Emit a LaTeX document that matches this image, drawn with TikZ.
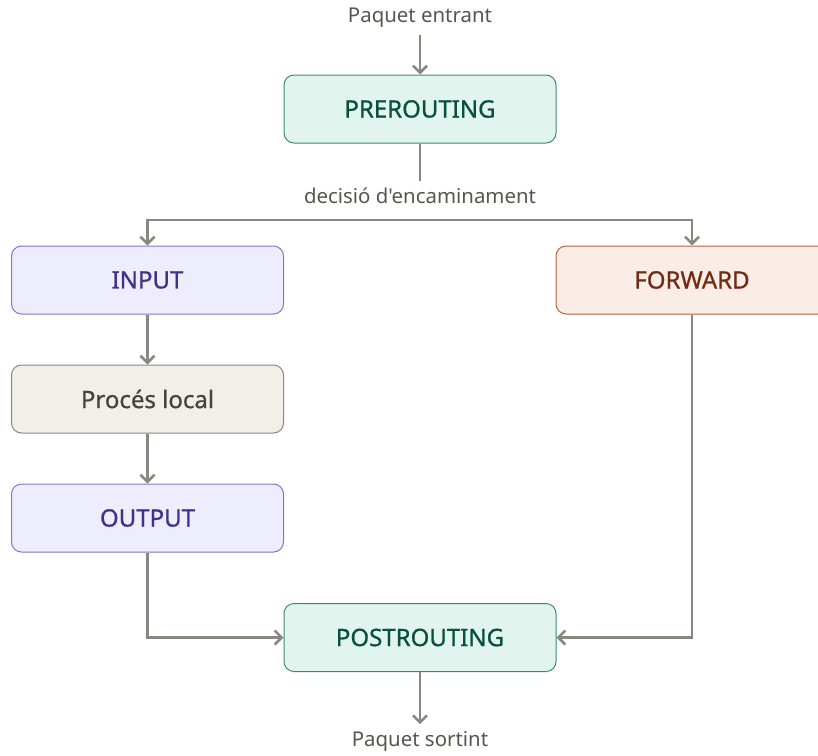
\documentclass[tikz,border=0pt]{standalone}
\usepackage{fontspec}
\setmainfont{Noto Sans}
\newfontfamily\plainfont{Noto Sans}
\newfontfamily\boxfont{Noto Sans}[FakeBold=0.8]
\usetikzlibrary{arrows.meta, positioning}

\definecolor{linegray}{HTML}{888780}
\definecolor{labelgray}{HTML}{555552}
\definecolor{greenfill}{HTML}{E1F5EE}
\definecolor{greendraw}{HTML}{3E8A6E}
\definecolor{greentext}{HTML}{085041}
\definecolor{purplefill}{HTML}{EEEDFE}
\definecolor{purpledraw}{HTML}{7F77C8}
\definecolor{purpletext}{HTML}{3C3489}
\definecolor{orangefill}{HTML}{FAECE7}
\definecolor{orangedraw}{HTML}{B5603F}
\definecolor{orangetext}{HTML}{712B13}
\definecolor{grayfill}{HTML}{F1EFE8}
\definecolor{graydraw}{HTML}{8A8880}
\definecolor{graytext}{HTML}{444441}

\begin{document}
\begin{tikzpicture}[x=1pt, y=-1pt,
  chain/.style={rectangle, rounded corners=10pt, minimum width=272pt, minimum height=68pt, line width=1pt, font=\boxfont\fontsize{24}{28}\selectfont},
  greenblock/.style={chain, draw=greendraw, fill=greenfill, text=greentext},
  purpleblock/.style={chain, draw=purpledraw, fill=purplefill, text=purpletext},
  orangeblock/.style={chain, draw=orangedraw, fill=orangefill, text=orangetext},
  grayblock/.style={chain, draw=graydraw, fill=grayfill, text=graytext},
  tag/.style={text=labelgray, font=\plainfont\fontsize{20.4}{24}\selectfont, inner sep=2pt, outer sep=5pt},
  line/.style={draw=linegray, line width=2.5pt},
  arrow/.style={line, -{Straight Barb[length=7pt, width=14pt, line width=2.5pt]}}]

\useasboundingbox (0,0) rectangle (818,755);

\node[tag] (in) at (420,18) {Paquet entrant};
\node[greenblock] (pre) at (420,109) {PREROUTING};
\node[tag] (decision) at (420,196) {decisió d'encaminament};
\coordinate (split) at (420,220);
\node[purpleblock] (input) at (147.5,280) {INPUT};
\node[orangeblock] (forward) at (692,280) {FORWARD};
\node[grayblock] (local) at (147.5,399) {Procés local};
\node[purpleblock] (output) at (147.5,518) {OUTPUT};
\node[greenblock] (post) at (420,637.5) {POSTROUTING};
\node[tag] (out) at (420,741) {Paquet sortint};

\draw[arrow] (in) -- (pre);
\draw[line] (pre) -- (decision);
\draw[arrow] (split) -| (input);
\draw[arrow] (split) -| (forward);
\draw[arrow] (input) -- (local);
\draw[arrow] (local) -- (output);
\draw[arrow] (output) |- (post);
\draw[arrow] (forward) |- (post);
\draw[arrow] (post) -- (out);

\end{tikzpicture}
\end{document}
